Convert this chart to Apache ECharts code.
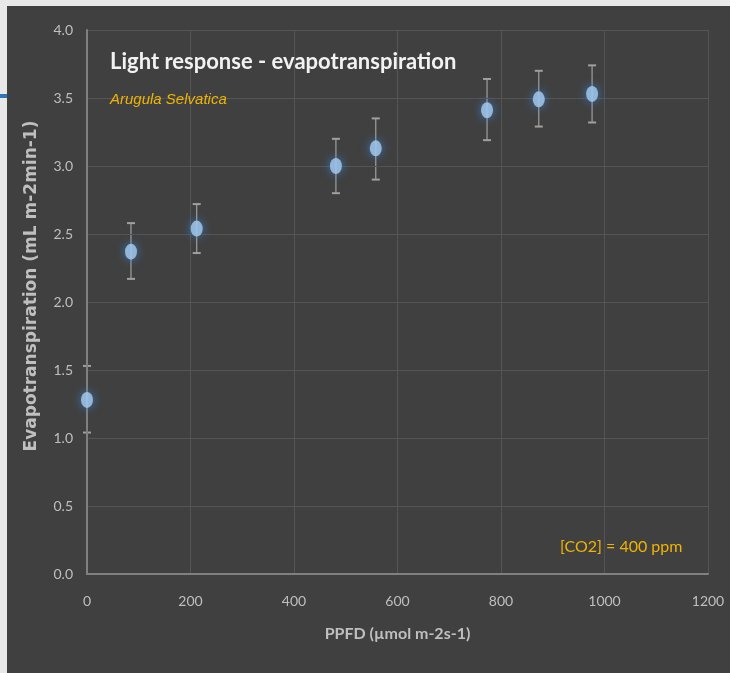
<!DOCTYPE html>
<html>
<head>
<meta charset="utf-8">
<script src="https://cdn.jsdelivr.net/npm/echarts@6/dist/echarts.min.js"></script>
<style>
  html, body { margin: 0; padding: 0; background: #e8e8e8; }
  #chart { position: absolute; left: 7px; top: 6px; width: 723px; height: 667px; }
</style>
</head>
<body>
<div id="chart"></div>
<script>
var ppfd = [0, 85, 212, 481, 558, 773, 873, 976];
var evap = [1.28, 2.37, 2.54, 3.00, 3.13, 3.41, 3.49, 3.53];
var errLow = [1.04, 2.17, 2.36, 2.80, 2.90, 3.19, 3.29, 3.32];
var errHigh = [1.53, 2.58, 2.72, 3.20, 3.35, 3.64, 3.70, 3.74];

var labelColor = '#bfbfbf';
var gold = '#f0b400';

var chart = echarts.init(document.getElementById('chart'));

var points = ppfd.map(function (x, i) { return [x, evap[i]]; });
var bars = ppfd.map(function (x, i) { return [x, errLow[i], errHigh[i]]; });

chart.setOption({
  backgroundColor: '#404040',
  animation: false,
  textStyle: { fontFamily: 'Lato' },
  title: [{
    text: 'Light response - evapotranspiration',
    left: 98,
    top: 40,
    textStyle: { color: '#f2f2f2', fontSize: 22, fontWeight: 'bold', fontFamily: 'Lato' }
  }, {
    text: 'Arugula Selvatica',
    left: 98,
    top: 81,
    textStyle: { color: gold, fontSize: 15, fontStyle: 'italic', fontWeight: 'normal', fontFamily: 'Liberation Sans' }
  }, {
    text: '[CO2] = 400 ppm',
    left: 548,
    top: 528,
    textStyle: { color: gold, fontSize: 16, fontWeight: 'normal', fontFamily: 'Lato' }
  }],
  grid: { left: 80, right: 22, top: 24, bottom: 99 },
  xAxis: {
    type: 'value',
    min: 0,
    max: 1200,
    interval: 200,
    name: 'PPFD (µmol m-2s-1)',
    nameLocation: 'middle',
    nameGap: 52,
    nameTextStyle: { color: labelColor, fontSize: 16, fontWeight: 'bold' },
    axisLine: { lineStyle: { color: '#808080', width: 2 } },
    axisTick: { show: false },
    axisLabel: {
      color: labelColor, fontSize: 14, margin: 20,
      formatter: function (v) { return String(v); }
    },
    splitLine: { lineStyle: { color: '#555555', width: 1 } }
  },
  yAxis: {
    type: 'value',
    min: 0,
    max: 4,
    interval: 0.5,
    name: 'Evapotranspiration (mL m-2min-1)',
    nameLocation: 'middle',
    nameGap: 47,
    nameTextStyle: {
      color: labelColor, fontSize: 17, fontWeight: 'bold', fontFamily: 'DejaVu Sans',
      padding: [0, 0, 0, 32]
    },
    axisLine: { show: true, lineStyle: { color: '#808080', width: 2 } },
    axisTick: { show: false },
    axisLabel: {
      color: labelColor, fontSize: 14, margin: 14,
      formatter: function (v) { return v.toFixed(1); }
    },
    splitLine: { lineStyle: { color: '#555555', width: 1 } }
  },
  series: [{
    type: 'custom',
    data: bars,
    z: -1,
    renderItem: function (params, api) {
      var top = api.coord([api.value(0), api.value(2)]);
      var bot = api.coord([api.value(0), api.value(1)]);
      var style = { stroke: '#a0a0a0', lineWidth: 1.2 };
      return {
        type: 'group',
        children: [
          { type: 'line', shape: { x1: top[0], y1: top[1], x2: bot[0], y2: bot[1] }, style: style },
          { type: 'line', shape: { x1: top[0] - 4, y1: top[1], x2: top[0] + 4, y2: top[1] }, style: { stroke: '#a0a0a0', lineWidth: 2 } },
          { type: 'line', shape: { x1: bot[0] - 4, y1: bot[1], x2: bot[0] + 4, y2: bot[1] }, style: { stroke: '#a0a0a0', lineWidth: 2 } }
        ]
      };
    }
  }, {
    type: 'scatter',
    data: points,
    z: 3,
    symbol: 'circle',
    symbolSize: [12, 16],
    itemStyle: {
      color: '#a9cdf0',
      shadowBlur: 10,
      shadowColor: 'rgba(60,140,230,0.9)'
    }
  }]
});
</script>
<div style="position:absolute;left:0;top:94px;width:7px;height:4px;background:#2e75b6;"></div>
</body>
</html>
